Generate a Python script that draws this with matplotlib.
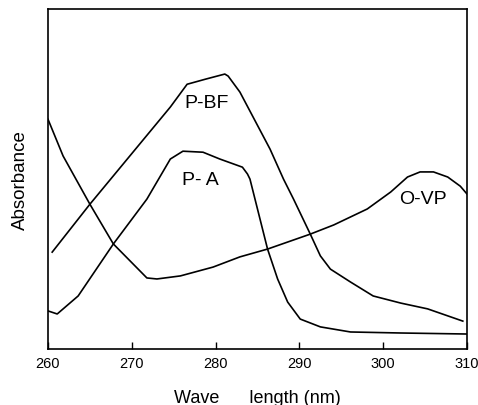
import matplotlib
matplotlib.use('Agg')
import matplotlib.pyplot as plt

plt.rcParams['font.family'] = ['Liberation Sans', 'DejaVu Sans']

# ------------------------------ SPECTRA (arbitrary units) ------------------------------

pbf_wl = [260.5, 265.0, 274.6, 276.6, 278.8, 281.1, 281.5, 282.9, 286.5, 288.1, 289.3,
          291.3, 292.5, 293.7, 296.1, 298.8, 302.1, 305.3, 309.5]
pbf_abs = [28.5, 42.6, 71.2, 77.9, 79.4, 80.9, 80.3, 75.6, 58.8, 50.0, 44.1,
           33.8, 27.4, 23.5, 19.7, 15.6, 13.5, 11.8, 8.2]

pa_wl = [260.0, 261.1, 263.6, 267.8, 271.8, 274.6, 276.1, 278.5, 280.5, 283.2, 283.8,
         284.1, 286.2, 287.4, 288.6, 290.1, 292.5, 296.1, 302.1, 310.0]
pa_abs = [11.2, 10.3, 15.6, 30.9, 44.1, 55.9, 58.2, 57.9, 55.9, 53.5, 51.5,
          50.0, 29.4, 20.6, 13.8, 8.8, 6.5, 5.0, 4.7, 4.4]

ovp_wl = [260.0, 261.8, 265.0, 267.8, 271.8, 273.0, 275.8, 279.7, 282.9, 286.2, 291.3,
          294.1, 298.1, 300.9, 302.9, 304.4, 306.0, 307.7, 309.2, 310.0]
ovp_abs = [67.6, 56.8, 42.6, 30.9, 20.9, 20.6, 21.5, 24.1, 27.1, 29.4, 33.8,
           36.5, 41.2, 46.2, 50.6, 52.1, 52.1, 50.6, 47.9, 45.6]

xticks = [260, 270, 280, 290, 300, 310]

fig = plt.figure(figsize=(4.78, 4.06), dpi=100)
ax = fig.add_axes([0.1004, 0.138, 0.8766, 0.837])

for wl, ab in [(pbf_wl, pbf_abs), (pa_wl, pa_abs), (ovp_wl, ovp_abs)]:
    ax.plot(wl, ab, color='black', lw=1.2, solid_joinstyle='round')

# curve labels
ax.text(278.9, 72.4, 'P-BF', fontsize=14, ha='center', va='center')
ax.text(278.2, 50.0, 'P- A', fontsize=14, ha='center', va='center')
ax.text(304.8, 44.4, 'O-VP', fontsize=14, ha='center', va='center')

ax.set_xlim(260, 310)
ax.set_ylim(0, 100)
ax.set_xticks(xticks)
ax.set_yticks([])
ax.tick_params(axis='x', direction='in', length=5, width=1, labelsize=10.5, pad=5)
for s in ax.spines.values():
    s.set_linewidth(1.2)

ax.set_xlabel('Wave      length (nm)', fontsize=13, labelpad=14)
ax.set_ylabel('Absorbance', fontsize=13.5, labelpad=14)

fig.savefig('out.png', dpi=100)
